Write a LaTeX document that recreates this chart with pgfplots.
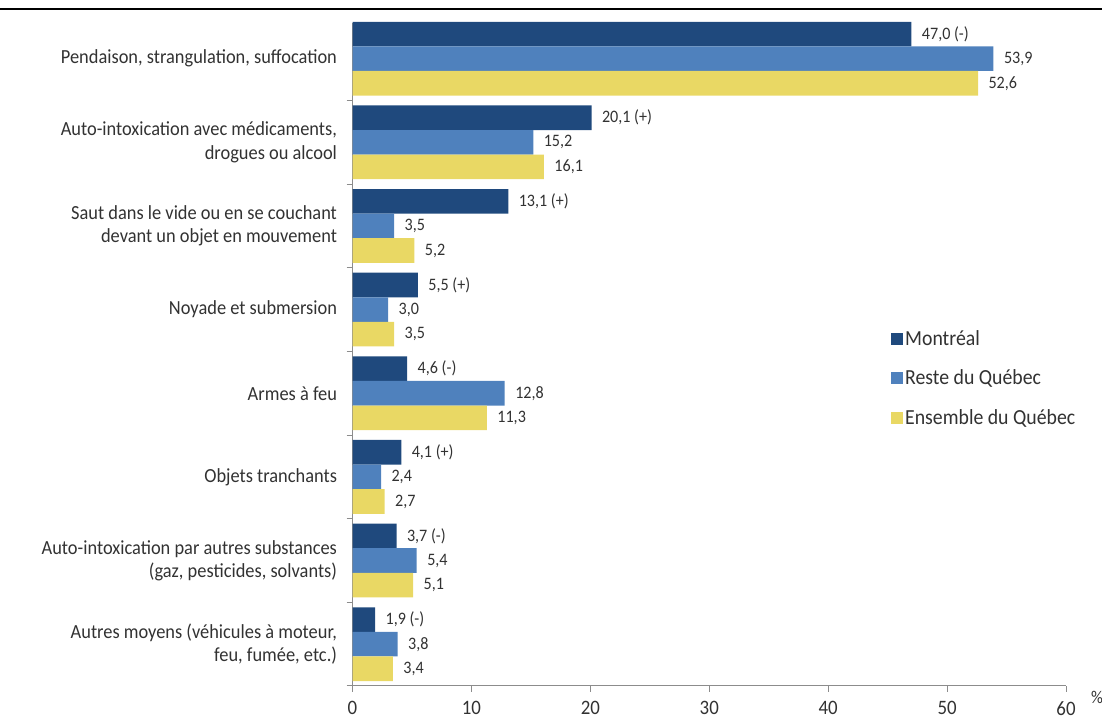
\documentclass[border=0pt]{standalone}
\usepackage{pgfplots}
\pgfplotsset{compat=1.18}
\usepackage{pgfplotstable}
\usepackage{fontspec}
\setmainfont{Carlito}[FakeStretch=0.92]
\definecolor{navy}{RGB}{31,73,125}
\definecolor{midblue}{RGB}{79,129,189}
\definecolor{yel}{RGB}{233,216,100}
\definecolor{txt}{RGB}{50,50,50}
\definecolor{axgray}{RGB}{140,140,140}

\pgfplotstableread[col sep=semicolon]{
y;val;lab
7;47.0;47,0 (-)
6;20.1;20,1 (+)
5;13.1;13,1 (+)
4;5.5;5,5 (+)
3;4.6;4,6 (-)
2;4.1;4,1 (+)
1;3.7;3,7 (-)
0;1.9;1,9 (-)
}\montreal
\pgfplotstableread[col sep=semicolon]{
y;val;lab
7;53.9;53,9
6;15.2;15,2
5;3.5;3,5
4;3.0;3,0
3;12.8;12,8
2;2.4;2,4
1;5.4;5,4
0;3.8;3,8
}\reste
\pgfplotstableread[col sep=semicolon]{
y;val;lab
7;52.6;52,6
6;16.1;16,1
5;5.2;5,2
4;3.5;3,5
3;11.3;11,3
2;2.7;2,7
1;5.1;5,1
0;3.4;3,4
}\ensemble

\begin{document}
\begin{tikzpicture}
\path[use as bounding box] (0,0) rectangle (1102pt,719pt);
\draw[line width=1.5pt, black] (0,710pt) -- (1102pt,710pt);
\begin{axis}[
  at={(352.5pt,33pt)}, anchor=south west,
  scale only axis, width=713.5pt, height=663.3pt,
  xbar, bar width=24.6pt,
  xmin=0, xmax=60, ymin=-0.5, ymax=7.43,
  axis x line*=bottom, axis y line*=left,
  axis line style={axgray, line width=1pt},
  xtick={0,10,...,60},
  tick align=outside,
  x tick style={axgray, line width=1pt},
  major tick length=6pt,
  /pgf/number format/assume math mode=true,
  xticklabel style={font=\fontsize{20.5}{23}\selectfont, text=txt, yshift=-6pt},
  ytick={0,...,7},
  y tick style={draw=none},
  minor ytick={-0.5,0.5,...,6.5},
  minor y tick style={axgray, line width=1pt, draw=axgray},
  minor tick length=6pt,
  yticklabels={{Autres moyens (véhicules à moteur,\\feu, fumée, etc.)},
               {Auto-intoxication par autres substances\\(gaz, pesticides, solvants)},
               {Objets tranchants},
               {Armes à feu},
               {Noyade et submersion},
               {Saut dans le vide ou en se couchant\\devant un objet en mouvement},
               {Auto-intoxication avec médicaments,\\drogues ou alcool},
               {Pendaison, strangulation, suffocation}},
  yticklabel style={align=right, font=\fontsize{20}{23.5}\selectfont, text=txt, xshift=-6pt},
  nodes near coords,
  point meta=explicit symbolic,
  every node near coord/.append style={font=\fontsize{17.5}{20}\selectfont, text=txt, anchor=west, xshift=7pt},
  legend image code/.code={\fill[#1] (0pt,-6pt) rectangle (12pt,6pt);},
  legend style={draw=none, at={(rel axis cs:0.7505,0.464)}, anchor=west,
    font=\fontsize{21.5}{24}\selectfont, text=txt, row sep=19pt, cells={anchor=west}},
  clip=false,
]
\addplot[fill=navy, draw=none, bar shift=24.6pt] table[x=val,y=y,meta=lab]{\montreal};
\addplot[fill=midblue, draw=none, bar shift=0pt] table[x=val,y=y,meta=lab]{\reste};
\addplot[fill=yel, draw=none, bar shift=-24.6pt] table[x=val,y=y,meta=lab]{\ensemble};
\legend{Montréal, Reste du Québec, Ensemble du Québec}
\end{axis}
\node[font=\fontsize{18}{21}\selectfont, text=txt] at (1097pt,22pt) {\%};
\end{tikzpicture}
\end{document}
